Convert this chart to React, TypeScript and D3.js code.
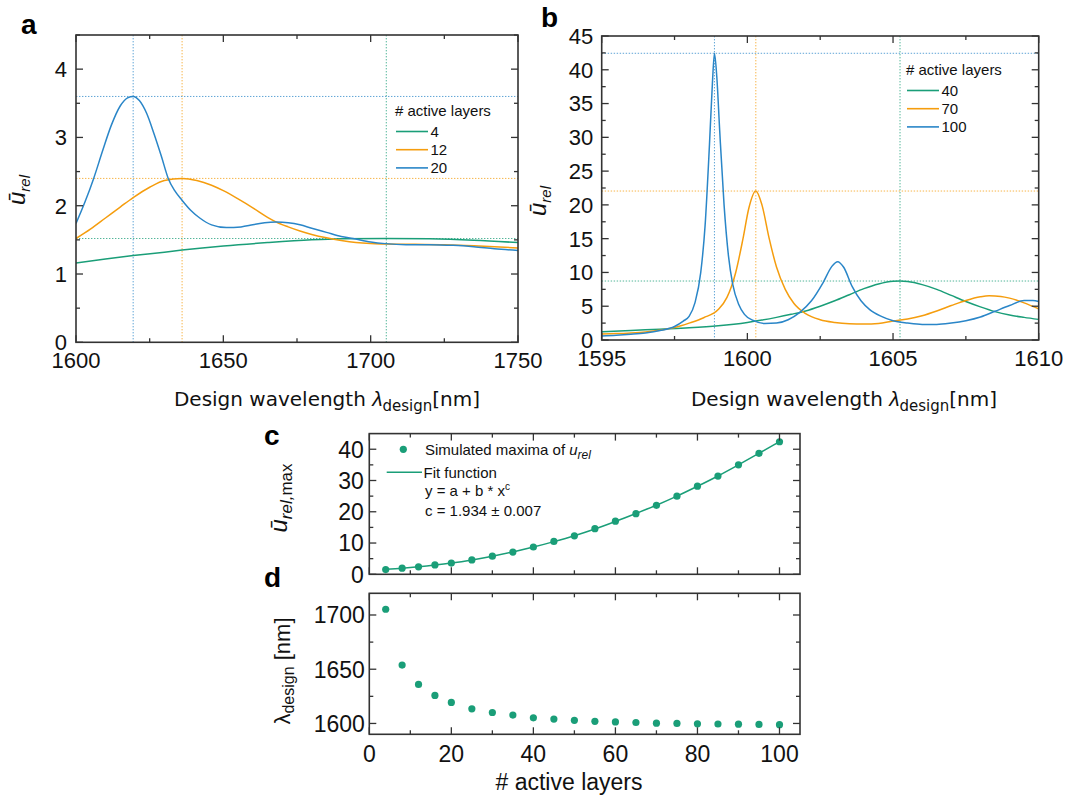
import React from "react";
import * as d3 from "d3";

// ---------- Panel a data ----------
const aGreenX = [1600, 1610, 1619.4, 1630, 1636, 1650, 1665, 1680, 1690, 1705, 1720, 1735, 1750];
const aGreenY = [1.16, 1.22, 1.27, 1.32, 1.35, 1.41, 1.46, 1.5, 1.515, 1.52, 1.515, 1.495, 1.46];
const aOrangeX = [1600, 1605, 1610, 1615, 1619.4, 1625, 1630, 1636, 1641, 1646, 1650, 1655, 1660, 1665, 1668, 1672, 1676, 1680, 1685, 1690, 1695, 1700, 1705, 1715, 1725, 1735, 1742, 1750];
const aOrangeY = [1.52, 1.66, 1.82, 1.98, 2.12, 2.27, 2.37, 2.4, 2.37, 2.3, 2.22, 2.1, 1.97, 1.83, 1.76, 1.69, 1.63, 1.58, 1.53, 1.49, 1.46, 1.445, 1.44, 1.435, 1.43, 1.415, 1.4, 1.38];
const aBlueX = [1600, 1603, 1606, 1609, 1612, 1615, 1617.5, 1619.4, 1621.5, 1624, 1626.5, 1629, 1631.3, 1633.5, 1636, 1639, 1642, 1646, 1651, 1656, 1660, 1664, 1668, 1672, 1676, 1680, 1685, 1690, 1694, 1700, 1705, 1712, 1720, 1728, 1735, 1742, 1750];
const aBlueY = [1.74, 2.05, 2.4, 2.8, 3.18, 3.46, 3.58, 3.6, 3.54, 3.35, 3.05, 2.72, 2.4, 2.22, 2.08, 1.93, 1.82, 1.72, 1.68, 1.69, 1.72, 1.75, 1.76, 1.75, 1.72, 1.67, 1.61, 1.55, 1.52, 1.47, 1.445, 1.43, 1.43, 1.42, 1.4, 1.37, 1.345];
const aLegend = ["4", "12", "20"];
const aPeakX = [1705.3, 1636.0, 1619.4];
const aPeakY = [1.52, 2.4, 3.6];

// ---------- Panel b data ----------
const bGreenX = [1595, 1596, 1597, 1598, 1599, 1600, 1600.5, 1601, 1601.5, 1602, 1602.5, 1603, 1603.5, 1604, 1604.5, 1605, 1605.24, 1605.5, 1606, 1606.5, 1607, 1607.5, 1608, 1608.5, 1609, 1609.5, 1610];
const bGreenY = [1.2, 1.4, 1.6, 1.8, 2.1, 2.6, 2.95, 3.35, 3.8, 4.3, 5.0, 5.8, 6.7, 7.6, 8.3, 8.7, 8.73, 8.65, 8.2, 7.5, 6.6, 5.7, 4.9, 4.2, 3.7, 3.35, 3.05];
const bOrangeX = [1595, 1595.5, 1596, 1596.5, 1597, 1597.5, 1598, 1598.5, 1599, 1599.3, 1599.6, 1599.85, 1600.05, 1600.29, 1600.5, 1600.75, 1601, 1601.3, 1601.6, 1602, 1602.5, 1603, 1603.5, 1604, 1604.5, 1605, 1605.5, 1606, 1606.5, 1607, 1607.5, 1608, 1608.3, 1608.7, 1609, 1609.5, 1610];
const bOrangeY = [0.9, 0.95, 1.05, 1.2, 1.45, 1.85, 2.5, 3.3, 4.5, 6.3, 10.0, 15.0, 19.5, 22.05, 20.0, 15.0, 10.8, 7.5, 5.4, 3.9, 3.0, 2.6, 2.4, 2.35, 2.45, 2.8, 3.1, 3.6, 4.3, 5.1, 5.85, 6.4, 6.55, 6.45, 6.2, 5.5, 4.6];
const bBlueX = [1595, 1595.5, 1596, 1596.5, 1597, 1597.5, 1597.8, 1598, 1598.2, 1598.4, 1598.55, 1598.7, 1598.8, 1598.87, 1598.95, 1599.05, 1599.2, 1599.35, 1599.5, 1599.7, 1599.9, 1600.2, 1600.6, 1601, 1601.4, 1601.8, 1602.2, 1602.6, 1602.9, 1603.1, 1603.3, 1603.6, 1603.9, 1604.2, 1604.6, 1605, 1605.5, 1606, 1606.5, 1607, 1607.5, 1608, 1608.5, 1609, 1609.5, 1609.8, 1610];
const bBlueY = [0.6, 0.7, 0.85, 1.05, 1.4, 2.0, 2.8, 3.5, 5.5, 10, 17, 29, 38, 42.4, 39, 31, 20, 12.5, 8.2, 5.3, 3.8, 2.9, 2.45, 2.5, 3.0, 4.1, 5.8, 8.5, 10.9, 11.6, 10.8, 7.9, 5.8, 4.5, 3.5, 2.85, 2.5, 2.3, 2.3, 2.5, 2.85, 3.4, 4.25, 5.1, 5.85, 5.85, 5.7];
const bLegend = ["40", "70", "100"];
const bPeakX = [1605.24, 1600.29, 1598.87];
const bPeakY = [8.73, 22.05, 42.44];

// ---------- Panel c / d data ----------
const layers = [4, 8, 12, 16, 20, 25, 30, 35, 40, 45, 50, 55, 60, 65, 70, 75, 80, 85, 90, 95, 100];
const uMax = [1.52, 1.95, 2.4, 3.0, 3.6, 4.6, 5.8, 7.1, 8.73, 10.5, 12.3, 14.6, 17.0, 19.4, 22.05, 25.0, 28.2, 31.4, 35.0, 38.7, 42.4];
const uFit = [1.6, 1.95, 2.4, 2.95, 3.6, 4.6, 5.8, 7.15, 8.7, 10.45, 12.35, 14.5, 16.9, 19.45, 22.1, 25.0, 28.15, 31.45, 35.0, 38.7, 42.4];
const lambdaDesign = [1705.3, 1653.8, 1636.0, 1625.8, 1619.4, 1613.5, 1610.1, 1607.7, 1605.2, 1604.0, 1602.9, 1602.0, 1601.4, 1600.9, 1600.3, 1600.0, 1599.7, 1599.5, 1599.3, 1599.1, 1598.9];

const COLORS = ["#1a9e78", "#f59d0e", "#2a86c8"];
const DOT = "#1a9e78";
const FONT = "'Liberation Sans', Arial, sans-serif";
const TFONT = "'DejaVu Sans', sans-serif";
const INK = "#111";
const FRAME = "#333";

const zip = (xs: number[], ys: number[]) => xs.map((x, i) => [x, ys[i]] as [number, number]);

type FrameProps = {
  xs: d3.ScaleLinear<number, number>;
  ys: d3.ScaleLinear<number, number>;
  xMajor: number[];
  xMinor: number[];
  yMajor: number[];
  yMinor: number[];
  xLabels?: boolean;
  xLabelDy?: number;
  yLabelDx?: number;
  fs?: number;
};

function Frame({ xs, ys, xMajor, xMinor, yMajor, yMinor, xLabels = true, xLabelDy = 25, yLabelDx = 9, fs = 21 }: FrameProps) {
  const [xl, xr] = xs.range();
  const [yb, yt] = ys.range();
  const maj = 7;
  const min = 4;
  const ticks: JSX.Element[] = [];
  const tk = (v: number, len: number, k: string) => {
    const x = xs(v);
    ticks.push(<line key={"xb" + k} x1={x} x2={x} y1={yb} y2={yb - len} />);
    ticks.push(<line key={"xt" + k} x1={x} x2={x} y1={yt} y2={yt + len} />);
  };
  const tky = (v: number, len: number, k: string) => {
    const y = ys(v);
    ticks.push(<line key={"yl" + k} x1={xl} x2={xl + len} y1={y} y2={y} />);
    ticks.push(<line key={"yr" + k} x1={xr} x2={xr - len} y1={y} y2={y} />);
  };
  xMajor.forEach((v, i) => tk(v, maj, "M" + i));
  xMinor.forEach((v, i) => tk(v, min, "m" + i));
  yMajor.forEach((v, i) => tky(v, maj, "M" + i));
  yMinor.forEach((v, i) => tky(v, min, "m" + i));
  return (
    <g>
      <g stroke={FRAME} strokeWidth={1.3}>{ticks}</g>
      <rect x={xl} y={yt} width={xr - xl} height={yb - yt} fill="none" stroke={FRAME} strokeWidth={1.6} />
      {xLabels &&
        xMajor.map((v) => (
          <text key={"xlab" + v} x={xs(v)} y={yb + xLabelDy} textAnchor="middle" fontFamily={FONT} fontSize={fs} fill={INK}>
            {String(v)}
          </text>
        ))}
      {yMajor.map((v) => (
        <text key={"ylab" + v} x={xl - yLabelDx} y={ys(v)} dy="0.36em" textAnchor="end" fontFamily={FONT} fontSize={fs} fill={INK}>
          {String(v)}
        </text>
      ))}
    </g>
  );
}

function WavePanel({
  id, xs, ys, series, peaksX, peaksY, legend, legendX, legendY,
}: {
  id: string;
  xs: d3.ScaleLinear<number, number>;
  ys: d3.ScaleLinear<number, number>;
  series: [number, number][][];
  peaksX: number[];
  peaksY: number[];
  legend: string[];
  legendX: number;
  legendY: number;
}) {
  const [xl, xr] = xs.range();
  const [yb, yt] = ys.range();
  const line = d3
    .line<[number, number]>()
    .x((d) => xs(d[0]))
    .y((d) => ys(d[1]))
    .curve(d3.curveMonotoneX);
  return (
    <g>
      <defs>
        <clipPath id={"clip" + id}>
          <rect x={xl} y={yt} width={xr - xl} height={yb - yt} />
        </clipPath>
      </defs>
      <g clipPath={`url(#clip${id})`}>
        {peaksX.map((p, i) => (
          <g key={"ref" + i} stroke={COLORS[i]} strokeWidth={1} strokeDasharray="1.4,1.6" opacity={0.75}>
            <line x1={xs(p)} x2={xs(p)} y1={yt} y2={yb} />
            <line x1={xl} x2={xr} y1={ys(peaksY[i])} y2={ys(peaksY[i])} />
          </g>
        ))}
        {series.map((s, i) => (
          <path key={"s" + i} d={line(s) || ""} fill="none" stroke={COLORS[i]} strokeWidth={1.5} />
        ))}
      </g>
      <text x={legendX} y={legendY} fontFamily={FONT} fontSize={15} fill={INK}>
        # active layers
      </text>
      {legend.map((l, i) => {
        const y = legendY + 15.5 + i * 18.2;
        return (
          <g key={"lg" + i}>
            <line x1={legendX + 1} x2={legendX + 33} y1={y} y2={y} stroke={COLORS[i]} strokeWidth={1.6} />
            <text x={legendX + 35.5} y={y} dy="0.36em" fontFamily={FONT} fontSize={15} fill={INK}>
              {l}
            </text>
          </g>
        );
      })}
    </g>
  );
}

function XTitle({ x, y }: { x: number; y: number }) {
  return (
    <text x={x} y={y} textAnchor="middle" fontFamily={TFONT} fontSize={20} fill={INK}>
      Design wavelength{" "}
      <tspan fontStyle="italic" fontFamily={FONT} fontSize={21}>λ</tspan>
      <tspan fontSize={15} dy={5}>design</tspan>
      <tspan dy={-5}>[nm]</tspan>
    </text>
  );
}

function URelTitle({ x, y }: { x: number; y: number }) {
  return (
    <text transform={`translate(${x},${y}) rotate(-90)`} textAnchor="middle" fontFamily={FONT} fontSize={24} fill={INK}>
      <tspan fontStyle="italic">ū</tspan>
      <tspan fontStyle="italic" fontSize={15} dy={5}>rel</tspan>
    </text>
  );
}

export default function App() {
  // Panel a scales
  const axs = d3.scaleLinear().domain([1600, 1750]).range([76, 518]);
  const ays = d3.scaleLinear().domain([0, 4.5]).range([342.3, 35]);
  // Panel b
  const bxs = d3.scaleLinear().domain([1595, 1610]).range([601.7, 1038.7]);
  const bys = d3.scaleLinear().domain([0, 45]).range([340, 36]);
  // Panel c
  const cxs = d3.scaleLinear().domain([0, 105]).range([369.3, 800]);
  const cys = d3.scaleLinear().domain([0, 45]).range([574.3, 433.6]);
  // Panel d
  const dys = d3.scaleLinear().domain([1590, 1720]).range([734.3, 593.3]);

  const fitLine = d3
    .line<[number, number]>()
    .x((d) => cxs(d[0]))
    .y((d) => cys(d[1]))
    .curve(d3.curveMonotoneX);

  const layerMajor = [0, 20, 40, 60, 80, 100];
  const layerMinor = [10, 30, 50, 70, 90];

  return (
    <svg
      width={1067}
      height={798}
      viewBox="0 0 1067 798"
      style={{ position: "absolute", left: 0, top: 0, background: "#fff" }}
    >
      <rect x={0} y={0} width={1067} height={798} fill="#fff" />

      {/* Panel labels */}
      <g fontFamily={FONT} fontWeight="bold" fontSize={28} fill="#000">
        <text x={21} y={34}>a</text>
        <text x={541} y={27}>b</text>
        <text x={264} y={445}>c</text>
        <text x={264} y={587}>d</text>
      </g>

      {/* ---------------- Panel a ---------------- */}
      <WavePanel
        id="a"
        xs={axs}
        ys={ays}
        series={[zip(aGreenX, aGreenY), zip(aOrangeX, aOrangeY), zip(aBlueX, aBlueY)]}
        peaksX={aPeakX}
        peaksY={aPeakY}
        legend={aLegend}
        legendX={395}
        legendY={116}
      />
      <Frame
        xs={axs}
        ys={ays}
        xMajor={[1600, 1650, 1700, 1750]}
        xMinor={[1625, 1675, 1725]}
        yMajor={[0, 1, 2, 3, 4]}
        yMinor={[0.5, 1.5, 2.5, 3.5, 4.5]}
        xLabelDy={26}
        yLabelDx={9}
        fs={22}
      />
      <XTitle x={327} y={406} />
      <URelTitle x={25} y={190} />

      {/* ---------------- Panel b ---------------- */}
      <WavePanel
        id="b"
        xs={bxs}
        ys={bys}
        series={[zip(bGreenX, bGreenY), zip(bOrangeX, bOrangeY), zip(bBlueX, bBlueY)]}
        peaksX={bPeakX}
        peaksY={bPeakY}
        legend={bLegend}
        legendX={906}
        legendY={75}
      />
      <Frame
        xs={bxs}
        ys={bys}
        xMajor={[1595, 1600, 1605, 1610]}
        xMinor={[1597.5, 1602.5, 1607.5]}
        yMajor={[0, 5, 10, 15, 20, 25, 30, 35, 40, 45]}
        yMinor={[2.5, 7.5, 12.5, 17.5, 22.5, 27.5, 32.5, 37.5, 42.5]}
        xLabelDy={26}
        yLabelDx={8.5}
        fs={22}
      />
      <XTitle x={844} y={406} />
      <URelTitle x={546} y={201} />

      {/* ---------------- Panel c ---------------- */}
      <path d={fitLine(zip(layers, uFit)) || ""} fill="none" stroke={DOT} strokeWidth={1.5} />
      {layers.map((l, i) => (
        <circle key={"c" + l} cx={cxs(l)} cy={cys(uMax[i])} r={3.6} fill={DOT} />
      ))}
      <Frame
        xs={cxs}
        ys={cys}
        xMajor={layerMajor}
        xMinor={layerMinor}
        yMajor={[0, 10, 20, 30, 40]}
        yMinor={[5, 15, 25, 35]}
        xLabels={false}
        yLabelDx={5.5}
        fs={23}
      />
      {/* legend c */}
      <circle cx={403.3} cy={449.3} r={3.6} fill={DOT} />
      <text x={425} y={454.5} fontFamily={FONT} fontSize={15} fill={INK}>
        Simulated maxima of <tspan fontStyle="italic">u</tspan>
        <tspan fontStyle="italic" fontSize={12} dy={4}>rel</tspan>
      </text>
      <line x1={386.7} x2={422} y1={472.3} y2={472.3} stroke={DOT} strokeWidth={1.5} />
      <text x={423.5} y={477.5} fontFamily={FONT} fontSize={15} fill={INK}>Fit function</text>
      <text x={425} y={496} fontFamily={FONT} fontSize={15} fill={INK}>
        y = a + b * x<tspan fontSize={10} dy={-6}>c</tspan>
      </text>
      <text x={425} y={515.5} fontFamily={FONT} fontSize={15} fill={INK}>c = 1.934 ± 0.007</text>
      <text transform="translate(287,498) rotate(-90)" textAnchor="middle" fontFamily={FONT} fontSize={24} fill={INK}>
        <tspan fontStyle="italic">ū</tspan>
        <tspan fontStyle="italic" fontSize={17} dy={5}>rel,</tspan>
        <tspan fontSize={17}>max</tspan>
      </text>

      {/* ---------------- Panel d ---------------- */}
      {layers.map((l, i) => (
        <circle key={"d" + l} cx={cxs(l)} cy={dys(lambdaDesign[i])} r={3.6} fill={DOT} />
      ))}
      <Frame
        xs={cxs}
        ys={dys}
        xMajor={layerMajor}
        xMinor={layerMinor}
        yMajor={[1600, 1650, 1700]}
        yMinor={[1625, 1675]}
        xLabelDy={27.5}
        yLabelDx={4.5}
        fs={23}
      />
      <text x={569} y={790} textAnchor="middle" fontFamily={FONT} fontSize={23} fill={INK}>
        # active layers
      </text>
      <text transform="translate(290,671) rotate(-90)" textAnchor="middle" fontFamily={FONT} fontSize={22} fill={INK}>
        λ<tspan fontSize={16} dy={4}>design</tspan>
        <tspan dy={-4}> [nm]</tspan>
      </text>
    </svg>
  );
}
